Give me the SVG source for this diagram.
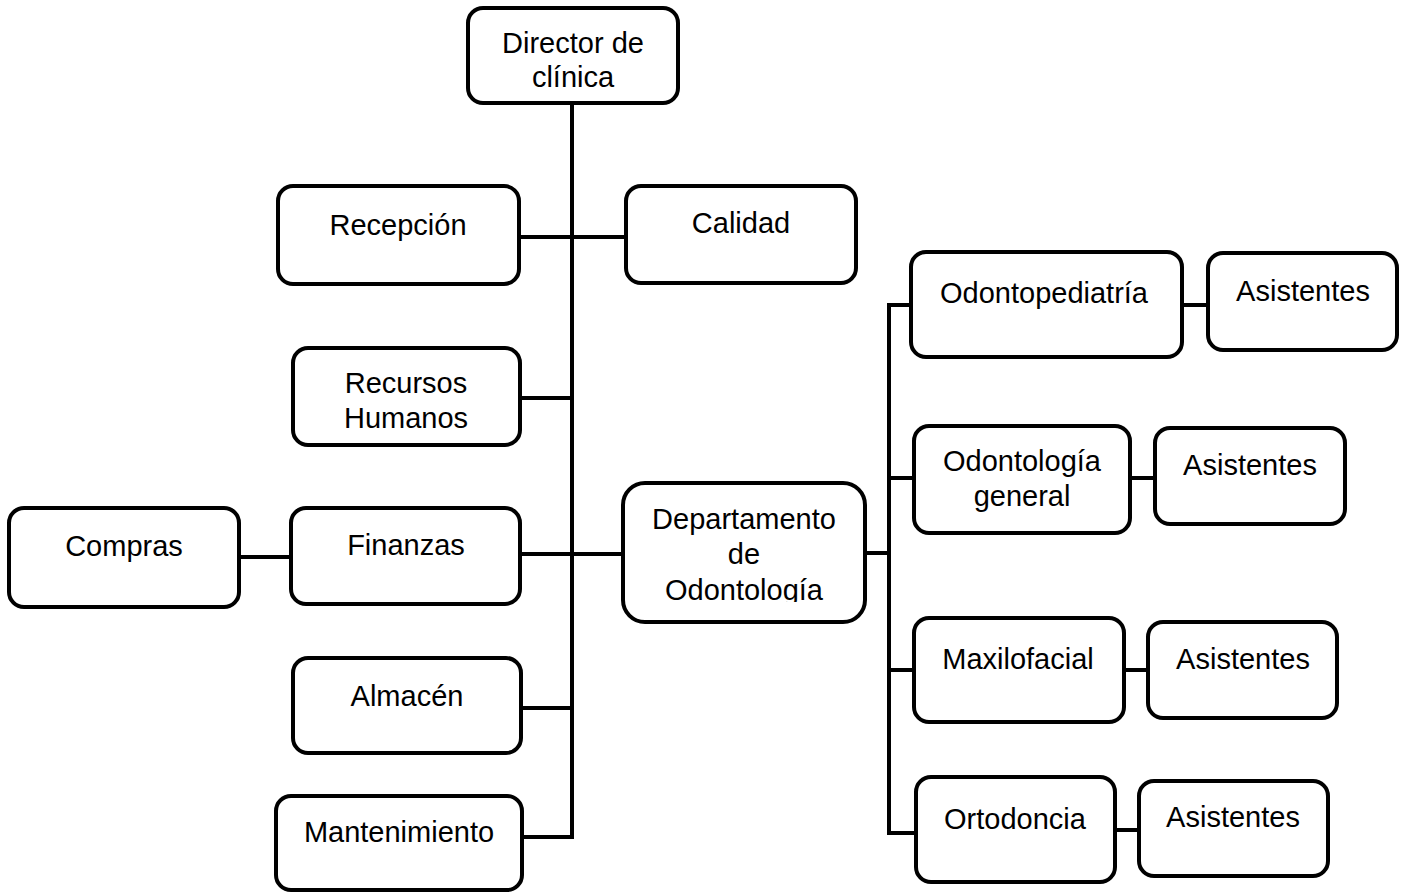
<svg xmlns="http://www.w3.org/2000/svg" width="1408" height="893" viewBox="0 0 1408 893">
<style>
.box{fill:#fff;stroke:#000;stroke-width:4}
.ln{fill:none;stroke:#000;stroke-width:4}
text{font-family:"Liberation Sans",Arial,sans-serif;font-size:29px;fill:#000;text-anchor:middle}
</style>
<defs>
<clipPath id="clipDep"><rect x="623" y="483" width="242" height="119"/></clipPath>
</defs>
<rect width="1408" height="893" fill="#fff"/>
<g id="connectors">
<path class="ln" d="M572 103V837H522"/>
<path class="ln" d="M519 237H626"/>
<path class="ln" d="M520 398H572"/>
<path class="ln" d="M239 557H291"/>
<path class="ln" d="M520 554H623"/>
<path class="ln" d="M521 708H572"/>
<path class="ln" d="M865 553H889"/>
<path class="ln" d="M911 305H889V833H916"/>
<path class="ln" d="M889 478H914"/>
<path class="ln" d="M889 670H914"/>
<path class="ln" d="M1182 305H1208"/>
<path class="ln" d="M1130 478H1155"/>
<path class="ln" d="M1124 670H1148"/>
<path class="ln" d="M1115 830H1139"/>
</g>
<g id="director"><rect class="box" x="468" y="8" width="210" height="95" rx="15"/><text x="573" y="53">Director de</text><text x="573" y="87">clínica</text></g>
<g id="recepcion"><rect class="box" x="278" y="186" width="241" height="98" rx="15"/><text x="398" y="235">Recepción</text></g>
<g id="calidad"><rect class="box" x="626" y="186" width="230" height="97" rx="15"/><text x="741" y="233">Calidad</text></g>
<g id="rrhh"><rect class="box" x="293" y="348" width="227" height="97" rx="15"/><text x="406" y="393">Recursos</text><text x="406" y="428">Humanos</text></g>
<g id="compras"><rect class="box" x="9" y="508" width="230" height="99" rx="15"/><text x="124" y="556">Compras</text></g>
<g id="finanzas"><rect class="box" x="291" y="508" width="229" height="96" rx="15"/><text x="406" y="555">Finanzas</text></g>
<g id="departamento"><rect class="box" x="623" y="483" width="242" height="139" rx="22"/><g clip-path="url(#clipDep)"><text x="744" y="529">Departamento</text><text x="744" y="564">de</text><text x="744" y="600">Odontología</text></g></g>
<g id="almacen"><rect class="box" x="293" y="658" width="228" height="95" rx="15"/><text x="407" y="706">Almacén</text></g>
<g id="mantenimiento"><rect class="box" x="276" y="796" width="246" height="94" rx="15"/><text x="399" y="842">Mantenimiento</text></g>
<g id="odontopediatria"><rect class="box" x="911" y="252" width="271" height="105" rx="15"/><text x="1044" y="303">Odontopediatría</text></g>
<g id="asist1"><rect class="box" x="1208" y="253" width="189" height="97" rx="15"/><text x="1303" y="301">Asistentes</text></g>
<g id="odontologia-general"><rect class="box" x="914" y="426" width="216" height="107" rx="15"/><text x="1022" y="471">Odontología</text><text x="1022" y="506">general</text></g>
<g id="asist2"><rect class="box" x="1155" y="428" width="190" height="96" rx="15"/><text x="1250" y="475">Asistentes</text></g>
<g id="maxilofacial"><rect class="box" x="914" y="618" width="210" height="104" rx="15"/><text x="1018" y="669">Maxilofacial</text></g>
<g id="asist3"><rect class="box" x="1148" y="622" width="189" height="96" rx="15"/><text x="1243" y="669">Asistentes</text></g>
<g id="ortodoncia"><rect class="box" x="916" y="777" width="199" height="105" rx="15"/><text x="1015" y="829">Ortodoncia</text></g>
<g id="asist4"><rect class="box" x="1139" y="781" width="189" height="95" rx="15"/><text x="1233" y="827">Asistentes</text></g>
</svg>
